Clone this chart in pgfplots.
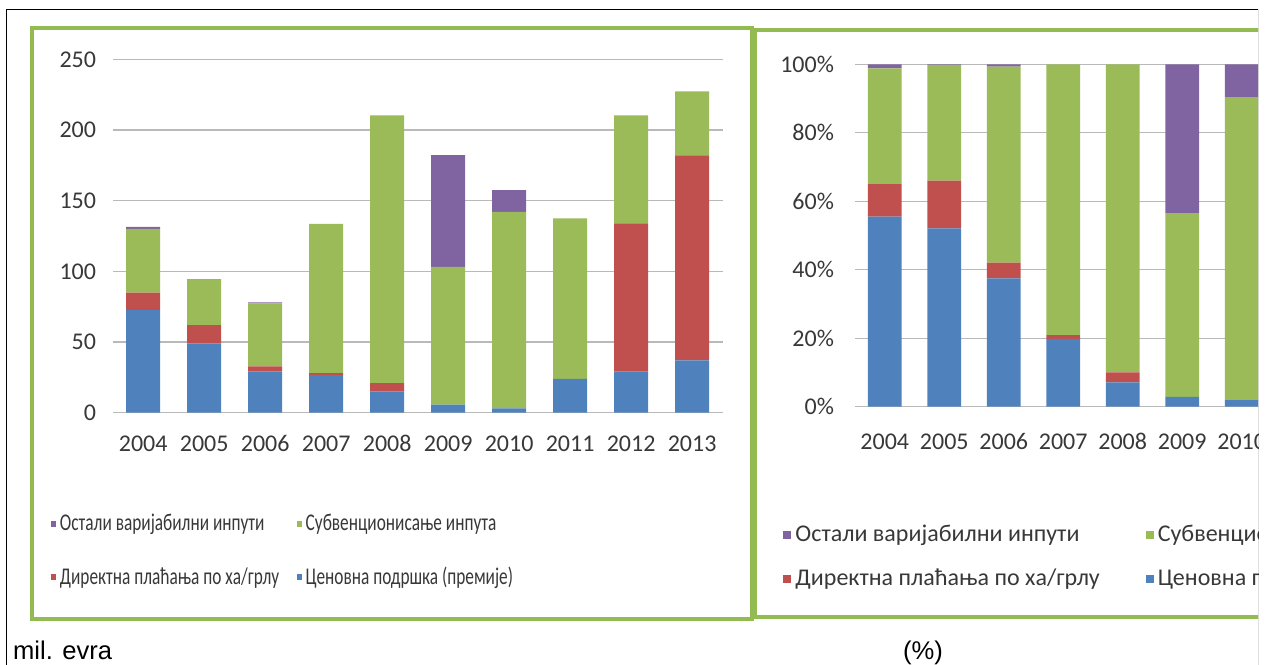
\documentclass[border=0pt]{standalone}
\usepackage{fontspec}
\setmainfont{Carlito}
\newfontfamily\arialfont{Liberation Sans}
\usepackage{pgfplots}
\pgfplotsset{compat=1.18}

\definecolor{xlblue}{HTML}{4F81BD}
\definecolor{xlred}{HTML}{C0504D}
\definecolor{xlgreen}{HTML}{9BBB59}
\definecolor{xlpurple}{HTML}{8064A2}
\definecolor{framegreen}{HTML}{92BC52}
\definecolor{ticktext}{HTML}{383838}

% narrow legend text of the left panel
\newcommand{\cnd}[1]{\scalebox{0.72}[1]{#1}}

\pgfplotsset{
  xlbars/.style={
    ybar stacked, scale only axis,
    xmin=2003.5, xmax=2013.5, ymin=0,
    xtick={2004,...,2013},
    /pgf/number format/1000 sep={},
    /pgf/number format/assume math mode=true,
    axis line style={draw=none},
    tick style={draw=none},
    ymajorgrids, grid style={color=gray!55, line width=0.6pt},
    tick label style={font=\fontsize{12}{14}\selectfont, text=ticktext},
    legend columns=2,
    reverse legend,
    legend cell align=left,
  },
}

\begin{document}
\begin{tikzpicture}
\useasboundingbox (0,0) rectangle (633.5pt,332pt);
\clip (0,0) rectangle (629pt,332pt);

% panel frames
\draw[framegreen, line width=2pt] (16pt,22.5pt) rectangle (376pt,318pt);
\draw[framegreen, line width=2pt] (377.5pt,23.5pt) rectangle (680pt,317pt);

% left: mil. evra
\begin{axis}[xlbars,
  at={(56.35pt,125.65pt)}, anchor=south west,
  width=305pt, height=176.7pt,
  ymax=250, ytick={0,50,...,250},
  bar width=17pt,
  yticklabel style={xshift=-4.8pt},
  xticklabel style={yshift=-8pt, text height=8pt, text depth=0pt},
  legend image code/.code={\fill[#1] (0pt,-1.6pt) rectangle (2.3pt,1.6pt);},
  legend style={at={(-0.111,-0.264)}, anchor=north west, draw=none, fill=none,
    font=\fontsize{12}{14}\selectfont, text=ticktext,
    row sep=12.5pt, /tikz/every even column/.append style={column sep=7pt}},
]
\addplot[fill=xlblue, draw=none] coordinates {(2004,72.5) (2005,49) (2006,29.2) (2007,26.5) (2008,15) (2009,5.8) (2010,3) (2011,24) (2012,29) (2013,37)};
\addplot[fill=xlred, draw=none] coordinates {(2004,12.5) (2005,13) (2006,3.6) (2007,1.5) (2008,6) (2009,0) (2010,0) (2011,0) (2012,105) (2013,145)};
\addplot[fill=xlgreen, draw=none] coordinates {(2004,45) (2005,32.2) (2006,44.6) (2007,105.5) (2008,189.4) (2009,97.3) (2010,139) (2011,113.5) (2012,76.4) (2013,45.3)};
\addplot[fill=xlpurple, draw=none] coordinates {(2004,1.5) (2005,0.3) (2006,0.6) (2007,0) (2008,0) (2009,79.2) (2010,15.5) (2011,0) (2012,0) (2013,0)};
\legend{\cnd{Ценовна подршка (премије)}, \cnd{Директна плаћања по ха/грлу}, \cnd{Субвенционисање инпута}, \cnd{Остали варијабилни инпути}}
\end{axis}

% right: shares (%)
\begin{axis}[xlbars,
  at={(427.5pt,128.65pt)}, anchor=south west,
  width=297.5pt, height=171.2pt,
  ymax=100, ytick={0,20,...,100},
  yticklabel={\pgfmathprintnumber{\tick}\%},
  bar width=16.9pt,
  yticklabel style={xshift=-7pt},
  xticklabel style={yshift=-10pt, text height=8pt, text depth=0pt},
  legend image code/.code={\fill[#1] (0pt,-2pt) rectangle (4pt,2pt);},
  legend style={at={(-0.131,-0.322)}, anchor=north west, draw=none, fill=none,
    font=\fontsize{12}{14}\selectfont, text=ticktext,
    row sep=7.7pt, /tikz/every even column/.append style={column sep=21pt}},
]
\addplot[fill=xlblue, draw=none] coordinates {(2004,55.5) (2005,52.1) (2006,37.5) (2007,19.8) (2008,7.1) (2009,2.9) (2010,1.9)};
\addplot[fill=xlred, draw=none] coordinates {(2004,9.5) (2005,13.9) (2006,4.6) (2007,1.1) (2008,2.9) (2009,0) (2010,0)};
\addplot[fill=xlgreen, draw=none] coordinates {(2004,33.8) (2005,33.8) (2006,57.2) (2007,79.1) (2008,90) (2009,53.6) (2010,88.5)};
\addplot[fill=xlpurple, draw=none] coordinates {(2004,1.2) (2005,0.2) (2006,0.7) (2007,0) (2008,0) (2009,43.5) (2010,9.6)};
\legend{Ценовна подршка (премије), Директна плаћања по ха/грлу, Субвенционисање инпута, Остали варијабилни инпути}
\end{axis}

% outer frame and captions
\draw[black, line width=0.75pt] (3.35pt,-1pt) -- (3.35pt,327.25pt) -- (629.5pt,327.25pt) -- (629.5pt,-1pt);
\node[anchor=base west, inner sep=0pt, font=\arialfont\fontsize{12.8}{15}\selectfont] at (6.35pt,2.5pt) {mil. evra};
\node[anchor=base, inner sep=0pt, font=\arialfont\fontsize{12.8}{15}\selectfont] at (461.5pt,2.5pt) {(\%)};
\end{tikzpicture}
\end{document}
